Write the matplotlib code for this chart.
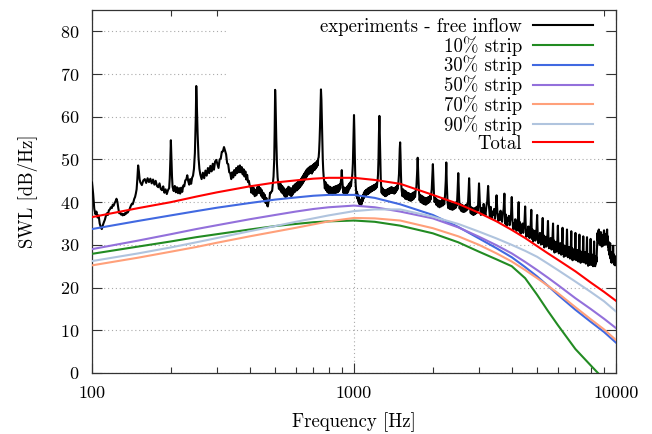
import matplotlib
matplotlib.use('Agg')
import matplotlib.pyplot as plt
from matplotlib.patches import Rectangle
from matplotlib.ticker import FixedLocator, LogLocator, NullFormatter, FixedFormatter

plt.rcParams['font.family'] = ['cmr10', 'DejaVu Serif']
plt.rcParams['axes.formatter.use_mathtext'] = True
plt.rcParams['font.size'] = 13.5

# model curves
model_freq = [100, 150, 200, 250, 300, 400, 500, 600, 700, 800, 1000, 1200, 1500,
              2000, 2500, 3000, 3500, 4000, 4500, 5000, 5500, 6000, 7000, 8000,
              9000, 10000]
strip_10 = [27.9, 29.6, 30.8, 31.8, 32.5, 33.6, 34.4, 34.9, 35.3, 35.5, 35.7, 35.4,
            34.5, 32.7, 30.6, 28.4, 26.6, 25.0, 22.2, 18.3, 14.5, 11.2, 5.6, 1.8,
            -1.5, -5.0]
strip_30 = [33.7, 35.6, 36.9, 37.9, 38.7, 39.8, 40.6, 41.1, 41.5, 41.7, 41.7, 41.0,
            39.5, 37.0, 34.2, 31.5, 29.2, 27.1, 24.8, 22.6, 20.4, 18.3, 14.8, 12.0,
            9.6, 7.1]
strip_50 = [29.0, 31.0, 32.5, 33.7, 34.6, 36.0, 37.0, 37.8, 38.4, 38.8, 39.2, 38.8,
            37.8, 36.2, 34.1, 31.9, 29.9, 28.0, 26.0, 24.1, 22.3, 20.6, 17.5, 15.0,
            12.7, 10.5]
strip_70 = [25.2, 27.0, 28.4, 29.5, 30.5, 32.0, 33.1, 34.0, 34.8, 35.5, 36.3, 36.2,
            35.7, 33.9, 32.0, 30.0, 28.0, 26.1, 24.1, 22.2, 20.4, 18.7, 15.4, 12.6,
            10.2, 7.7]
strip_90 = [26.2, 28.0, 29.4, 30.6, 31.6, 33.2, 34.4, 35.4, 36.2, 36.9, 37.9, 38.3,
            38.3, 36.6, 34.9, 33.1, 31.5, 30.0, 28.6, 27.2, 25.6, 24.1, 21.4, 19.0,
            16.8, 14.4]
total = [36.5, 38.6, 40.0, 41.3, 42.3, 43.7, 44.6, 45.1, 45.5, 45.7, 45.7, 45.2,
         44.3, 41.7, 39.6, 37.5, 35.5, 33.5, 31.6, 29.7, 28.0, 26.5, 23.8, 21.2,
         19.0, 16.9]

# measured spectrum, (frequency, level)
exp_points = [
    (100, 44.6), (101, 42.0), (102, 38.5), (103, 37.2), (104, 37.8), (105, 36.4),
    (106, 36.9), (107, 35.0), (108, 34.2), (109, 33.7), (110, 34.6), (111, 35.3),
    (112, 35.9), (113, 36.8), (114, 37.4), (115, 37.0), (116, 38.1), (117, 38.3),
    (118, 38.8), (119, 38.6), (120, 39.4), (121, 39.2), (122, 39.8), (123, 40.2),
    (124, 40.8), (125, 40.1), (126, 38.6), (127, 37.4), (128, 37.6), (129, 37.1),
    (130, 37.3), (131, 36.9), (132, 37.2), (133, 37.0), (134, 37.5), (135, 37.3),
    (136, 37.7), (137, 37.6), (138, 38.0), (139, 38.3), (140, 38.8), (141, 39.3),
    (142, 39.6), (143, 39.5), (144, 40.1), (145, 40.8), (146, 41.2), (147, 42.0),
    (148, 43.0), (149, 45.5), (150, 48.6), (151, 47.2), (152, 45.3), (153, 44.6),
    (155, 44.0), (157, 45.1), (159, 45.4), (161, 44.5), (163, 45.6), (165, 44.7),
    (167, 45.5), (169, 44.4), (171, 45.3), (173, 44.1), (175, 45.0), (177, 43.8),
    (179, 43.5), (181, 44.4), (183, 43.1), (185, 42.8), (187, 43.7), (189, 42.2),
    (191, 43.0), (193, 41.9), (195, 42.8), (197, 43.3), (198, 45.5), (199, 49.5),
    (200, 54.5), (201, 50.0), (202, 46.0), (203, 43.6),
    (205, 42.6), (207, 43.8), (209, 42.3), (211, 43.5), (213, 42.1), (215, 43.3),
    (217, 42.0), (219, 43.4), (221, 42.4), (223, 43.9), (225, 43.7), (227, 45.1),
    (229, 45.3), (231, 46.3), (233, 44.9), (235, 44.1), (237, 45.4), (239, 44.3),
    (241, 45.7), (243, 46.2), (245, 47.8), (247, 51.5), (249, 60.0), (250, 67.2),
    (251, 64.0), (253, 56.0), (255, 50.5), (257, 47.8), (259, 46.5),
    (262, 45.4), (265, 46.9), (268, 45.6), (271, 47.4), (274, 46.2), (277, 48.0),
    (280, 46.8), (283, 48.5), (286, 47.2), (289, 49.0), (292, 47.6), (295, 49.5),
    (298, 49.9), (301, 48.9), (304, 48.0), (307, 50.0), (310, 50.2), (313, 51.8),
    (316, 51.9), (319, 52.9), (322, 52.0), (325, 51.2), (328, 49.1), (331, 48.9),
    (334, 47.0), (337, 46.8), (340, 45.4), (343, 47.0), (346, 45.8), (349, 47.5),
    (352, 46.3), (355, 48.0), (358, 46.8), (361, 48.4), (364, 47.0), (367, 48.6),
    (370, 47.0), (373, 48.2), (376, 46.5), (379, 47.7), (382, 46.0), (385, 47.2),
    (388, 45.3), (391, 46.4), (394, 44.7), (397, 45.0), (400, 43.7), (403, 43.8),
    (406, 42.2), (409, 43.6), (412, 41.9), (415, 43.3), (418, 41.4), (421, 42.9),
    (424, 41.6), (427, 43.5), (430, 42.2), (433, 43.7), (436, 42.1), (439, 43.3),
    (442, 41.5), (445, 42.8), (448, 41.0), (451, 42.2), (454, 40.5), (457, 41.7),
    (460, 39.8), (463, 41.0), (466, 39.2), (469, 39.0), (472, 40.2), (475, 40.4),
    (478, 42.2), (481, 42.1), (484, 42.5), (487, 42.6), (490, 44.4), (493, 46.0),
    (496, 50.0), (498, 57.0), (500, 66.3), (502, 63.0), (505, 55.0), (508, 49.0),
    (511, 45.8), (514, 44.3),
    (517, 43.1), (520, 44.5), (523, 42.8), (526, 44.2), (529, 42.3), (532, 43.8),
    (535, 42.0), (538, 43.4), (541, 41.5), (544, 43.0), (547, 41.2), (550, 42.9),
    (553, 41.3), (556, 43.2), (559, 41.7), (562, 43.6), (565, 42.0), (568, 43.4),
    (571, 41.6), (574, 43.1), (577, 41.4), (580, 43.3), (583, 41.8), (586, 43.8),
    (589, 42.2), (592, 44.0), (595, 42.4), (598, 44.3), (601, 42.7), (604, 44.4),
    (607, 42.8), (610, 44.7), (613, 43.1), (616, 44.9), (619, 43.4), (622, 45.2),
    (625, 43.7), (628, 45.5), (631, 44.0), (634, 45.9), (637, 44.4), (640, 46.3),
    (643, 44.8), (646, 46.7), (649, 45.2), (652, 47.1), (655, 45.6), (658, 47.5),
    (661, 46.0), (664, 47.8), (667, 46.4), (670, 48.0), (673, 46.6), (676, 48.2),
    (679, 46.8), (682, 48.4), (685, 46.9), (688, 48.3), (691, 46.7), (694, 48.6),
    (697, 47.1), (700, 48.8), (703, 47.5), (706, 49.0), (709, 47.6), (712, 49.2),
    (715, 47.9), (718, 49.4), (721, 48.2), (724, 49.7), (727, 48.6), (730, 50.2),
    (733, 50.5), (736, 52.0), (739, 54.5), (742, 58.0), (745, 62.5), (748, 66.4),
    (751, 64.0), (754, 59.0), (757, 54.0), (760, 50.0), (763, 47.5), (766, 46.0),
    (770, 44.8), (774, 43.2), (778, 44.7), (782, 42.8), (786, 44.2), (790, 42.4),
    (794, 44.0), (798, 42.2), (802, 43.7), (806, 42.0), (810, 43.6), (814, 41.9),
    (818, 43.4), (822, 41.8), (826, 43.3), (830, 41.7), (834, 43.5), (838, 42.0),
    (842, 43.6), (846, 42.1), (850, 43.7), (854, 42.2), (858, 43.8), (862, 42.3),
    (866, 43.9), (870, 42.4), (874, 44.0), (878, 42.7), (882, 44.2), (886, 43.2),
    (890, 44.6), (894, 45.6), (898, 47.5), (902, 45.2), (906, 43.6), (910, 42.2),
    (914, 43.5), (918, 41.9), (922, 43.3), (926, 41.7), (930, 43.2), (934, 41.8),
    (938, 43.5), (942, 42.1), (946, 43.8), (950, 42.5), (954, 44.1), (958, 43.0),
    (962, 44.4), (966, 43.4), (970, 44.7), (974, 43.8), (978, 45.0), (982, 45.6),
    (986, 46.8), (990, 49.0), (994, 53.5), (998, 59.0), (1000, 60.4), (1003, 57.0),
    (1007, 51.0), (1011, 46.5), (1015, 44.0),
    (1019, 42.6), (1023, 41.4), (1027, 42.4), (1031, 40.8), (1035, 41.8), (1039, 40.2),
    (1043, 41.2), (1047, 39.6), (1051, 40.7), (1055, 39.4), (1059, 40.5), (1063, 39.3),
    (1067, 40.4), (1071, 39.6), (1075, 41.1), (1079, 40.2), (1083, 41.7), (1087, 40.8),
    (1091, 42.2), (1095, 41.2), (1099, 42.5), (1103, 41.4), (1107, 42.7), (1111, 41.6),
    (1115, 42.9), (1119, 41.8), (1123, 43.0), (1127, 41.9), (1131, 43.2), (1135, 42.0),
    (1139, 43.3), (1143, 42.2), (1147, 43.4), (1151, 42.3), (1155, 43.5), (1159, 42.4),
    (1163, 43.6), (1167, 42.6), (1171, 43.7), (1175, 42.7), (1179, 43.8), (1183, 42.8),
    (1187, 43.9), (1191, 42.9), (1195, 44.0), (1199, 43.0), (1203, 44.1), (1207, 43.1),
    (1211, 44.2), (1215, 43.3), (1219, 44.4), (1223, 43.6), (1227, 44.6), (1231, 45.2),
    (1235, 46.5), (1240, 50.0), (1245, 56.0), (1250, 60.2), (1255, 55.0), (1260, 49.0),
    (1265, 45.5), (1270, 43.6),
    (1275, 42.2), (1280, 43.4), (1285, 41.9), (1290, 43.1), (1295, 41.7), (1300, 42.9),
    (1305, 41.6), (1310, 42.8), (1315, 41.4), (1320, 42.7), (1325, 41.5), (1330, 42.8),
    (1335, 41.6), (1340, 43.0), (1345, 41.8), (1350, 43.1), (1355, 41.9), (1360, 43.2),
    (1365, 42.0), (1370, 43.3), (1375, 42.1), (1380, 43.4), (1385, 42.2), (1390, 43.5),
    (1395, 42.3), (1400, 43.4), (1405, 42.2), (1410, 43.3), (1415, 42.1), (1420, 43.2),
    (1425, 42.0), (1430, 43.3), (1435, 42.2), (1440, 43.5), (1445, 42.4), (1450, 43.6),
    (1455, 42.7), (1460, 43.8), (1465, 43.0), (1470, 44.2), (1475, 44.0), (1480, 45.2),
    (1485, 46.6), (1490, 49.5), (1495, 52.5), (1500, 54.0), (1505, 51.0), (1510, 47.0),
    (1515, 44.2), (1520, 42.8),
    (1530, 41.4), (1540, 43.0), (1550, 41.2), (1560, 42.7), (1570, 40.8), (1580, 42.5),
    (1590, 40.7), (1600, 42.2), (1610, 40.6), (1620, 42.1), (1630, 40.4), (1640, 41.9),
    (1650, 40.3), (1660, 42.0), (1670, 40.5), (1680, 42.2), (1690, 40.8), (1700, 42.4),
    (1710, 41.2), (1720, 42.7), (1730, 43.5), (1740, 46.5), (1750, 50.4), (1760, 46.0),
    (1770, 42.5), (1780, 40.4), (1790, 41.7), (1800, 40.0), (1810, 41.5), (1820, 39.8),
    (1830, 41.3), (1840, 39.6), (1850, 41.1), (1860, 39.5), (1870, 41.0), (1880, 39.4),
    (1890, 40.9), (1900, 39.6), (1910, 41.1), (1920, 39.8), (1930, 41.2), (1940, 40.0),
    (1950, 41.5), (1960, 40.6), (1970, 41.8), (1980, 43.0), (1990, 46.0), (2000, 48.9),
    (2010, 45.0), (2020, 41.5), (2030, 40.0),
    (2045, 41.0), (2060, 39.4), (2075, 40.6), (2090, 39.0), (2105, 40.4), (2120, 38.8),
    (2135, 40.2), (2150, 39.0), (2165, 40.5), (2180, 39.2), (2195, 40.8), (2210, 39.5),
    (2225, 41.5), (2240, 45.0), (2250, 49.3), (2260, 44.5), (2275, 40.0), (2290, 38.6),
    (2305, 40.0), (2320, 38.4), (2335, 39.8), (2350, 38.3), (2365, 39.7), (2380, 38.2),
    (2395, 39.6), (2410, 38.4), (2425, 39.8), (2440, 38.6), (2455, 40.0), (2470, 39.2),
    (2485, 42.5), (2500, 46.8), (2515, 42.0), (2530, 38.5), (2545, 39.6), (2560, 38.0),
    (2575, 39.4), (2590, 37.8), (2605, 39.2), (2620, 37.7), (2635, 39.1), (2650, 37.8),
    (2665, 39.3), (2680, 38.0), (2695, 39.5), (2710, 38.3), (2725, 40.0), (2740, 43.0),
    (2750, 45.6), (2760, 42.5), (2775, 38.5), (2790, 37.4), (2805, 38.8), (2820, 37.2),
    (2835, 38.6), (2850, 37.0), (2865, 38.5), (2880, 37.1), (2895, 38.6), (2910, 37.3),
    (2925, 38.8), (2940, 37.5), (2955, 39.0), (2970, 38.0), (2985, 41.5), (3000, 44.4),
    (3015, 41.0),
    (3025, 39.3), (3050, 37.0), (3075, 38.6), (3100, 37.3), (3125, 39.6), (3150, 37.7),
    (3175, 36.9), (3200, 39.0), (3225, 40.2), (3250, 43.8), (3275, 39.0), (3300, 36.6),
    (3325, 38.9), (3350, 36.2), (3375, 37.8), (3400, 37.0), (3425, 38.4), (3450, 36.1),
    (3475, 38.0), (3500, 41.6), (3525, 37.8), (3550, 35.5), (3575, 37.1), (3600, 35.8),
    (3625, 38.0), (3650, 36.2), (3675, 35.4), (3700, 37.4), (3725, 38.4), (3750, 42.0),
    (3775, 35.0), (3800, 37.1), (3825, 34.4), (3850, 36.3), (3875, 35.6), (3900, 36.8),
    (3925, 34.6), (3950, 35.9), (3975, 37.0), (4000, 41.2), (4025, 35.8), (4050, 33.6),
    (4075, 35.1), (4100, 33.8), (4125, 36.0), (4150, 34.1), (4175, 33.3), (4200, 35.2),
    (4225, 36.3), (4250, 40.0), (4275, 33.2), (4300, 35.3), (4325, 32.6), (4350, 34.6),
    (4375, 33.9), (4400, 35.0), (4425, 32.8), (4450, 34.2), (4475, 35.5), (4500, 39.0),
    (4525, 34.1), (4550, 31.9), (4575, 33.4), (4600, 32.1), (4625, 34.3), (4650, 32.5),
    (4675, 31.6), (4700, 33.5), (4725, 34.8), (4750, 38.2), (4775, 31.4), (4800, 33.6),
    (4825, 30.8), (4850, 32.8), (4875, 32.1), (4900, 33.3), (4925, 31.0), (4950, 32.5),
    (4975, 33.8), (5000, 37.0), (5025, 32.5), (5050, 30.4), (5075, 31.9), (5100, 30.6),
    (5125, 32.8), (5150, 30.9), (5175, 30.1), (5200, 32.0), (5225, 33.2), (5250, 36.3),
    (5275, 30.1), (5300, 32.2), (5325, 29.4), (5350, 31.5), (5375, 30.7), (5400, 31.9),
    (5425, 29.6), (5450, 31.1), (5475, 32.4), (5500, 35.6), (5525, 31.3), (5550, 29.2),
    (5575, 30.7), (5600, 29.4), (5625, 31.6), (5650, 29.7), (5675, 28.9), (5700, 30.8),
    (5725, 32.0), (5750, 35.0), (5775, 28.9), (5800, 31.0), (5825, 28.2), (5850, 30.3),
    (5875, 29.5), (5900, 30.7), (5925, 28.4), (5950, 29.9), (5975, 31.2), (6000, 34.5),
    (6025, 30.1), (6050, 28.0), (6075, 29.5), (6100, 28.2), (6125, 30.4), (6150, 28.5),
    (6175, 27.7), (6200, 29.6), (6225, 30.8), (6250, 34.0), (6275, 27.9), (6300, 30.0),
    (6325, 27.2), (6350, 29.3), (6375, 28.5), (6400, 29.7), (6425, 27.4), (6450, 28.9),
    (6475, 30.2), (6500, 33.6), (6525, 29.2), (6550, 27.1), (6575, 28.6), (6600, 27.3),
    (6625, 29.5), (6650, 27.6), (6675, 26.8), (6700, 28.7), (6725, 29.9), (6750, 33.2),
    (6775, 27.0), (6800, 29.2), (6825, 26.4), (6850, 28.5), (6875, 27.7), (6900, 28.9),
    (6925, 26.6), (6950, 28.1), (6975, 29.4), (7000, 32.8), (7025, 28.5), (7050, 26.4),
    (7075, 27.9), (7100, 26.6), (7125, 28.8), (7150, 26.9), (7175, 26.1), (7200, 28.0),
    (7225, 29.2), (7250, 32.4), (7275, 26.4), (7300, 28.6), (7325, 25.8), (7350, 27.9),
    (7375, 27.1), (7400, 28.3), (7425, 26.0), (7450, 27.5), (7475, 28.8), (7500, 32.0),
    (7525, 28.0), (7550, 25.9), (7575, 27.4), (7600, 26.1), (7625, 28.3), (7650, 26.4),
    (7675, 25.6), (7700, 27.5), (7725, 28.7), (7750, 31.8), (7775, 25.7), (7800, 27.9),
    (7825, 25.1), (7850, 27.2), (7875, 26.4), (7900, 27.6), (7925, 25.3), (7950, 26.8),
    (7975, 28.1), (8000, 31.4), (8025, 27.4), (8050, 25.3), (8075, 26.8), (8100, 25.5),
    (8125, 27.7), (8150, 25.8), (8175, 25.0), (8200, 26.9), (8225, 28.0), (8250, 30.8),
    (8275, 25.4), (8300, 27.4), (8325, 25.0), (8350, 26.8), (8375, 25.6), (8400, 27.2),
    (8425, 26.0), (8450, 28.6), (8475, 30.2), (8500, 32.8), (8525, 31.0), (8550, 33.2),
    (8575, 30.4), (8600, 33.6), (8625, 31.2), (8650, 32.4), (8675, 30.0), (8700, 32.0),
    (8725, 30.6), (8750, 33.0), (8775, 30.2), (8800, 32.4), (8825, 29.6), (8850, 31.6),
    (8875, 30.8), (8900, 32.2), (8925, 29.8), (8950, 31.4), (8975, 32.8), (9000, 33.4),
    (9025, 30.5), (9050, 32.6), (9075, 30.0), (9100, 31.8), (9125, 30.9), (9150, 32.4),
    (9175, 30.2), (9200, 32.0), (9225, 33.0), (9250, 33.6), (9275, 30.4), (9300, 32.0),
    (9325, 29.6), (9350, 30.8), (9375, 28.6), (9400, 30.0), (9425, 27.8), (9450, 29.2),
    (9475, 27.4), (9500, 30.4), (9525, 26.8), (9550, 28.4), (9575, 26.0), (9600, 27.8),
    (9625, 25.8), (9650, 27.6), (9675, 26.2), (9700, 28.0), (9725, 26.4), (9750, 29.8),
    (9775, 26.0), (9800, 27.8), (9825, 25.4), (9850, 27.2), (9875, 25.6), (9900, 27.4),
    (9925, 25.2), (9950, 27.0), (9975, 25.6), (10000, 26.4),
]

labels = ['experiments - free inflow', '10% strip', '30% strip', '50% strip',
          '70% strip', '90% strip', 'Total']
colors = ['black', '#228b22', '#4169e1', '#9370db', '#ffa07a', '#b0c4de', '#ff0000']

fig = plt.figure(figsize=(6.52, 4.34), dpi=100)
ax = fig.add_axes([0.1411, 0.1406, 0.8037, 0.8364])
ax.set_xscale('log')

exp_f = [p[0] for p in exp_points]
exp_v = [p[1] for p in exp_points]
handles = []
h, = ax.plot(exp_f, exp_v, color=colors[0], lw=1.5, zorder=3)
handles.append(h)
for vals, c in zip([strip_10, strip_30, strip_50, strip_70, strip_90, total], colors[1:]):
    h, = ax.plot(model_freq, vals, color=c, lw=1.5, zorder=3)
    handles.append(h)

ax.set_xlim(100, 10000)
ax.set_ylim(0, 85)
ax.xaxis.set_major_locator(FixedLocator([100, 1000, 10000]))
ax.xaxis.set_major_formatter(FixedFormatter(['100', '1000', '10000']))
ax.xaxis.set_minor_locator(LogLocator(base=10, subs=range(2, 10)))
ax.xaxis.set_minor_formatter(NullFormatter())
ax.set_yticks(range(0, 81, 10))

ax.tick_params(which='both', direction='in', top=True, right=True, color='#333333')
ax.tick_params(which='major', length=7, width=0.8, pad=9, labelsize=13)
ax.tick_params(which='minor', length=4, width=0.8)
for s in ax.spines.values():
    s.set_color('#333333')
    s.set_linewidth(0.9)

ax.set_axisbelow(True)
ax.grid(True, which='major', color='#aaaaaa', ls=(0, (1, 2.5)), lw=0.8)

# opaque key area that hides the grid
ax.add_patch(Rectangle((0.2595, 0.609), 0.718, 0.391, transform=ax.transAxes,
                       facecolor='white', edgecolor='none', zorder=1.5))

leg = ax.legend(handles, labels, loc='upper right', bbox_to_anchor=(0.957, 0.978),
                frameon=False, markerfirst=False, handlelength=3.2,
                handletextpad=0.6, labelspacing=0.0, borderpad=0, borderaxespad=0)

ax.set_xlabel('Frequency [Hz]', labelpad=8)
ax.set_ylabel('SWL [dB/Hz]', labelpad=16)

fig.savefig('out.png', dpi=100)
